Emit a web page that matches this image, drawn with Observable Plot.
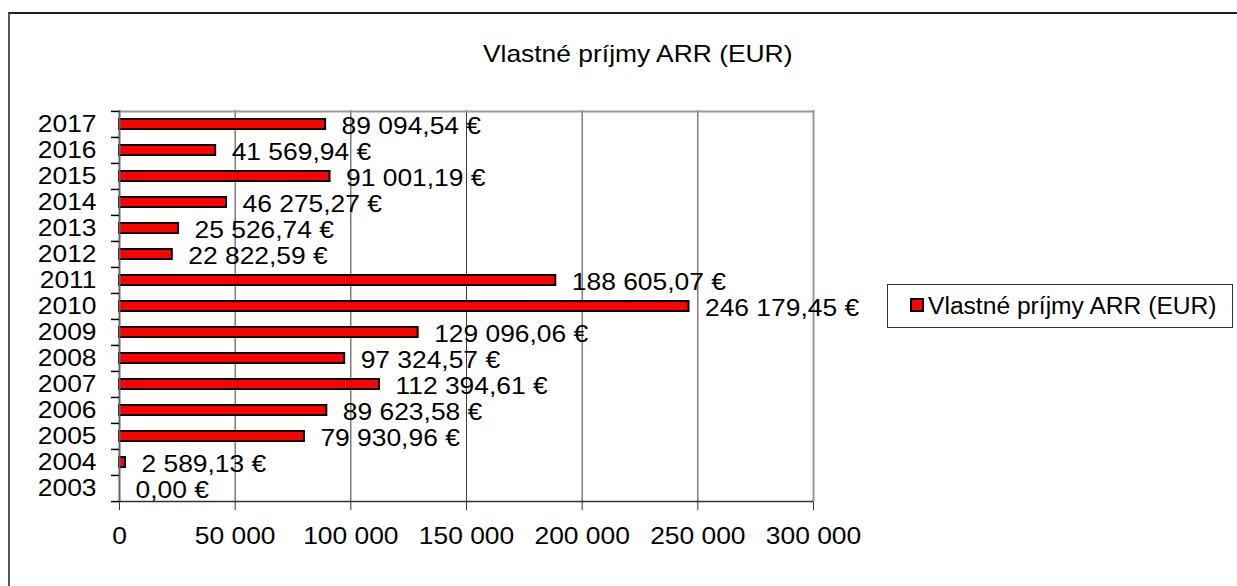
<!DOCTYPE html>
<html>
<head>
<meta charset="utf-8">
<script src="https://cdn.jsdelivr.net/npm/d3@7"></script>
<script src="https://cdn.jsdelivr.net/npm/@observablehq/plot@0.6"></script>
<style>
  html, body { margin: 0; padding: 0; background: #fff; }
  #wrap { position: relative; width: 1237px; height: 586px; overflow: hidden; background: #fff;
          font-family: "Liberation Sans", Arial, sans-serif; color: #000; }
  #outer { position: absolute; left: 8px; top: 12px; width: 1400px; height: 800px;
           border-top: 2px solid #222; border-left: 2px solid #555; box-sizing: border-box; }
  #title { position: absolute; left: 0; width: 1275px; top: 42px; text-align: center;
           font-size: 24px; line-height: 24px; white-space: nowrap; }
  #title span { display: inline-block; transform: scaleX(1.1); }
  #legend { position: absolute; left: 887px; top: 284px; width: 346px; height: 44px;
            border: 1px solid #333; box-sizing: border-box; background: #fff; }
  #legend .sw { position: absolute; left: 22px; top: 13px; width: 14px; height: 14px;
                background: #ff0000; border: 2px solid #000; box-sizing: border-box; }
  #legend .lt { position: absolute; left: 40px; top: 10px; font-size: 23px; line-height: 23px;
                white-space: nowrap; transform: scaleX(1.07); transform-origin: left center; }
  #chart { position: absolute; left: 0; top: 0; }
</style>
</head>
<body>
<div id="wrap">
  <div id="outer"></div>
  <div id="title"><span>Vlastné príjmy ARR (EUR)</span></div>
  <div id="chart"></div>
  <div id="legend"><div class="sw"></div><div class="lt">Vlastné príjmy ARR (EUR)</div></div>
</div>
<script>
// ---- data ----
const years = ["2003","2004","2005","2006","2007","2008","2009","2010","2011","2012","2013","2014","2015","2016","2017"];
const values = [0, 2589.13, 79930.96, 89623.58, 112394.61, 97324.57, 129096.06, 246179.45, 188605.07, 22822.59, 25526.74, 46275.27, 91001.19, 41569.94, 89094.54];
const xTicks = [0, 50000, 100000, 150000, 200000, 250000, 300000];
const gridTicks = [50000, 100000, 150000, 200000, 250000];

const data = years.map((y, i) => ({year: y, value: values[i]}));

const loc = d3.formatLocale({decimal: ",", thousands: " ", grouping: [3], currency: ["", " €"]});
const fmtVal = v => loc.format(",.2f")(v) + " €";
const fmtTick = v => loc.format(",d")(v);

const W = 1237, H = 586, ML = 119, MR = 424, MT = 110, MB = 84;
const step = (H - MT - MB) / years.length;
const frameW = W - ML - MR;

const chart = Plot.plot({
  width: W,
  height: H,
  marginLeft: ML,
  marginRight: MR,
  marginTop: MT,
  marginBottom: MB,
  style: {fontFamily: "'Liberation Sans', Arial, sans-serif", fontSize: "24px", color: "#000", background: "transparent", overflow: "visible"},
  x: {domain: [0, 300000], type: "linear", label: null},
  y: {domain: years.slice().reverse(), type: "band", paddingInner: 0.6, paddingOuter: 0.3, label: null},
  marks: [
    Plot.ruleX(gridTicks, {stroke: "#3c3c3c", strokeWidth: 1}),
    Plot.ruleX([300000], {stroke: "#999", strokeWidth: 2}),
    Plot.ruleY([years[years.length - 1]], {dy: -step / 2, stroke: "#999", strokeWidth: 2}),
    Plot.barX(data, {x: "value", y: "year", fill: "#ff0000", stroke: "#000", strokeWidth: 2}),
    Plot.ruleX([0], {stroke: "#666", strokeWidth: 2}),
    Plot.ruleY([years[0]], {dy: step / 2, stroke: "#333", strokeWidth: 1.5}),
    Plot.ruleY(years, {dy: -step / 2, insetLeft: -8, insetRight: frameW, stroke: "#000", strokeWidth: 1.5}),
    Plot.ruleY([years[0]], {dy: step / 2, insetLeft: -8, insetRight: frameW, stroke: "#000", strokeWidth: 1.5}),
    Plot.axisY({tickSize: 0, tickPadding: 23, fontSize: 24, label: null}),
    Plot.axisX({ticks: xTicks, tickSize: 8, tickPadding: 16, tickFormat: fmtTick, fontSize: 24, stroke: "#333", label: null}),
    Plot.text(data, {x: "value", y: "year", text: d => fmtVal(d.value), textAnchor: "start", dx: 16, dy: 1.5, fill: "#000", fontSize: 24})
  ]
});

document.getElementById("chart").appendChild(chart);

// horizontally widen glyphs to match the reference's stretched text
chart.querySelectorAll("text").forEach(el => {
  const t = el.getAttribute("transform");
  if (t) {
    el.setAttribute("transform", t + " scale(1.1,1)");
  } else {
    const x = +(el.getAttribute("x") || 0);
    el.setAttribute("transform", `translate(${x},0) scale(1.1,1) translate(${-x},0)`);
  }
});
</script>
</body>
</html>
